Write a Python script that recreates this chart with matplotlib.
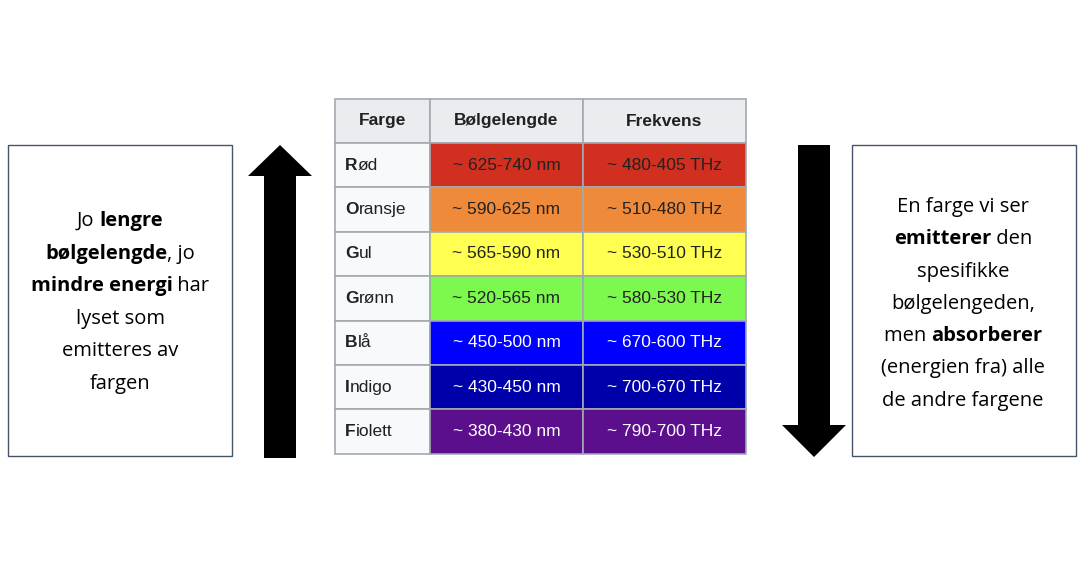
import matplotlib.pyplot as plt
from matplotlib.patches import Rectangle, FancyBboxPatch, Polygon

farger = ["Rød", "Oransje", "Gul", "Grønn", "Blå", "Indigo", "Fiolett"]
bolgelengde = ["~ 625-740 nm", "~ 590-625 nm", "~ 565-590 nm", "~ 520-565 nm",
               "~ 450-500 nm", "~ 430-450 nm", "~ 380-430 nm"]
frekvens = ["~ 480-405 THz", "~ 510-480 THz", "~ 530-510 THz", "~ 580-530 THz",
            "~ 670-600 THz", "~ 700-670 THz", "~ 790-700 THz"]
celle_farger = ["#d12f1f", "#ef8a3a", "#ffff52", "#7cf84f", "#0000ff", "#0000aa", "#5b0f8c"]
tekst_farger = ["#222222", "#222222", "#222222", "#222222", "white", "white", "white"]
kolonner = ["Farge", "Bølgelengde", "Frekvens"]

venstre_tekst = [[("Jo ", False), ("lengre", True)],
                 [("bølgelengde", True), (", jo", False)],
                 [("mindre energi", True), (" har", False)],
                 [("lyset som", False)],
                 [("emitteres av", False)],
                 [("fargen", False)]]
hoyre_tekst = [[("En farge vi ser", False)],
               [("emitterer", True), (" den", False)],
               [("spesifikke", False)],
               [("bølgelengeden,", False)],
               [("men ", False), ("absorberer", True)],
               [("(energien fra) alle", False)],
               [("de andre fargene", False)]]

fig = plt.figure(figsize=(10.8, 5.75), dpi=100)
ax = fig.add_axes([0, 0, 1, 1])
ax.set_xlim(0, 1080)
ax.set_ylim(575, 0)
ax.axis("off")

# table
xs = [335, 430, 583, 746]
y0, hh, rh = 99, 44, 44.4
border = "#a2a9b1"
for j in range(3):
    ax.add_patch(Rectangle((xs[j], y0), xs[j+1]-xs[j], hh, fc="#eaecf0", ec=border, lw=1.2))
    ax.text((xs[j]+xs[j+1])/2, y0+hh/2, kolonner[j], ha="center", va="center",
            fontsize=12.5, fontweight="bold", family="Liberation Sans", color="#202122")
for i in range(len(farger)):
    y = y0 + hh + i*rh
    ax.add_patch(Rectangle((xs[0], y), xs[1]-xs[0], rh, fc="#f8f9fa", ec=border, lw=1.2))
    t = ax.text(xs[0]+10, y+rh/2, farger[i][0], ha="left", va="center", fontsize=12.5,
                fontweight="bold", family="Liberation Sans", color="#202122")
    ax.annotate(farger[i][1:], xycoords=t, xy=(1, 0.5), va="center", ha="left",
                fontsize=12.5, family="Liberation Sans", color="#202122")
    for j, vals in [(1, bolgelengde), (2, frekvens)]:
        ax.add_patch(Rectangle((xs[j], y), xs[j+1]-xs[j], rh, fc=celle_farger[i], ec=border, lw=1.2))
        ax.text((xs[j]+xs[j+1])/2, y+rh/2, vals[i], ha="center", va="center",
                fontsize=12.5, family="Liberation Sans", color=tekst_farger[i])

# arrows
ax.add_patch(Polygon([(264, 458), (264, 176), (248, 176), (280, 145), (312, 176),
                      (296, 176), (296, 458)], closed=True, fc="black", ec="none"))
ax.add_patch(Polygon([(798, 145), (798, 425), (782, 425), (814, 457), (846, 425),
                      (830, 425), (830, 145)], closed=True, fc="black", ec="none"))

# boxes
for bx in (8, 852):
    ax.add_patch(Rectangle((bx, 145), 224, 311, fc="white", ec="#44546a", lw=1.0))

fig.canvas.draw()
r = fig.canvas.get_renderer()

def skriv(linjer, cx, ytop, dy):
    for k, segs in enumerate(linjer):
        y = ytop + k*dy
        objs = []
        for s, b in segs:
            objs.append(ax.text(0, y, s, fontsize=14.5, family="Open Sans",
                                fontweight="bold" if b else "normal", va="center", ha="left"))
        widths = [o.get_window_extent(r).width for o in objs]
        x = cx - sum(widths)/2
        for o, w in zip(objs, widths):
            o.set_x(x)
            x += w

skriv(venstre_tekst, 120, 221, 32.6)
skriv(hoyre_tekst, 963, 207, 32.3)

fig.savefig("out.png", dpi=100)
